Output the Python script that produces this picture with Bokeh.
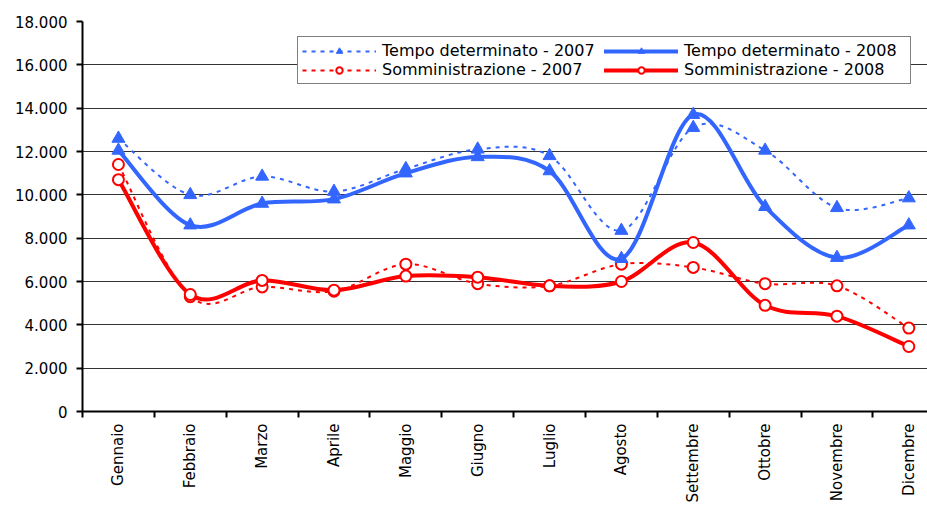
import numpy as np
from bokeh.plotting import figure
from bokeh.models import Range1d, FixedTicker, Legend, LegendItem, ColumnDataSource
from bokeh.embed import file_html
from bokeh.resources import INLINE

months = ["Gennaio", "Febbraio", "Marzo", "Aprile", "Maggio", "Giugno",
          "Luglio", "Agosto", "Settembre", "Ottobre", "Novembre", "Dicembre"]
tempo_2007 = [12600, 10000, 10850, 10150, 11200, 12100, 11800, 8350, 13100, 12050, 9400, 9850]
tempo_2008 = [12050, 8600, 9600, 9800, 11000, 11750, 11100, 7050, 13700, 9450, 7100, 8600]
somm_2007 = [11400, 5300, 5750, 5550, 6800, 5900, 5800, 6800, 6650, 5900, 5800, 3850]
somm_2008 = [10700, 5400, 6050, 5600, 6250, 6200, 5800, 6000, 7800, 4900, 4400, 3000]
y_ticks = [0, 2000, 4000, 6000, 8000, 10000, 12000, 14000, 16000, 18000]
y_tick_labels = ["0", "2.000", "4.000", "6.000", "8.000", "10.000",
                 "12.000", "14.000", "16.000", "18.000"]

BLUE = "#3366FF"
RED = "#FF0000"
FONT = "DejaVu Sans"

p = figure(width=927, height=505, output_backend="svg", toolbar_location=None,
           x_range=Range1d(-0.5, 11.26), y_range=Range1d(0, 18000),
           min_border_left=82, min_border_right=0, min_border_top=21,
           min_border_bottom=0)
p.outline_line_color = None
p.background_fill_color = "white"

# axes
p.xaxis.ticker = FixedTicker(ticks=list(range(len(months))),
                             minor_ticks=[i - 0.5 for i in range(len(months) + 1)])
p.xaxis.major_label_overrides = {i: m for i, m in enumerate(months)}
p.xaxis.major_tick_out = 0
p.xaxis.major_tick_in = 0
p.xaxis.minor_tick_out = 6
p.xaxis.minor_tick_in = 0
p.xaxis.minor_tick_line_color = "black"
p.xaxis.minor_tick_line_width = 2
p.xaxis.axis_line_width = 2
p.xaxis.axis_line_color = "black"
p.xaxis.major_label_orientation = np.pi / 2
p.xaxis.major_label_standoff = 6
p.xaxis.major_label_text_font = FONT
p.xaxis.major_label_text_font_size = "15px"
p.xaxis.major_label_text_color = "black"

p.yaxis.ticker = FixedTicker(ticks=y_ticks)
p.yaxis.major_label_overrides = {t: l for t, l in zip(y_ticks, y_tick_labels)}
p.yaxis.major_tick_out = 6
p.yaxis.major_tick_in = 0
p.yaxis.major_tick_line_width = 2
p.yaxis.minor_tick_line_color = None
p.yaxis.axis_line_width = 2
p.yaxis.axis_line_color = "black"
p.yaxis.major_label_standoff = 9
p.yaxis.major_label_text_font = FONT
p.yaxis.major_label_text_font_size = "15px"
p.yaxis.major_label_text_color = "black"

p.xgrid.visible = False
p.ygrid.ticker = FixedTicker(ticks=y_ticks)
p.ygrid.grid_line_color = "#333333"
p.ygrid.grid_line_width = 1


def smooth_segments(vals):
    xs = np.arange(len(vals), dtype=float)
    ys = np.asarray(vals, dtype=float)
    n = len(ys)
    seg = dict(x0=[], y0=[], x1=[], y1=[], cx0=[], cy0=[], cx1=[], cy1=[])
    for i in range(n - 1):
        i0 = max(i - 1, 0)
        i3 = min(i + 2, n - 1)
        seg["x0"].append(xs[i]); seg["y0"].append(ys[i])
        seg["x1"].append(xs[i + 1]); seg["y1"].append(ys[i + 1])
        seg["cx0"].append(xs[i] + (xs[i + 1] - xs[i0]) / 6)
        seg["cy0"].append(ys[i] + (ys[i + 1] - ys[i0]) / 6)
        seg["cx1"].append(xs[i + 1] - (xs[i3] - xs[i]) / 6)
        seg["cy1"].append(ys[i + 1] - (ys[i3] - ys[i]) / 6)
    return ColumnDataSource(seg)


series = [
    ("Tempo determinato - 2007", tempo_2007, BLUE, "4 5", 2, "triangle"),
    ("Somministrazione - 2007", somm_2007, RED, "4 5", 2, "circle"),
    ("Tempo determinato - 2008", tempo_2008, BLUE, "solid", 4, "triangle"),
    ("Somministrazione - 2008", somm_2008, RED, "solid", 4, "circle"),
]

items = []
for label, vals, col, dash, lw, marker in series:
    src = smooth_segments(vals)
    cap = "round" if dash == "solid" else "butt"
    br = p.bezier(x0="x0", y0="y0", x1="x1", y1="y1", cx0="cx0", cy0="cy0",
                  cx1="cx1", cy1="cy1", source=src, line_color=col, line_width=lw,
                  line_dash=dash, line_cap=cap)
    xs = list(range(len(vals)))
    if marker == "triangle":
        sc = p.scatter(xs, vals, marker="triangle", size=13, fill_color=col,
                       line_color=col, line_width=1)
    else:
        sc = p.scatter(xs, vals, marker="circle", size=11, fill_color="white",
                       line_color=col, line_width=2)
    items.append(LegendItem(label=label, renderers=[br, sc]))

legend = Legend(items=items, location=(215, 327), orientation="vertical", nrows=2)
legend.glyph_width = 74
legend.glyph_height = 16
legend.label_height = 16
legend.label_width = 222
legend.label_standoff = 6
legend.label_text_font = FONT
legend.label_text_font_size = "16px"
legend.label_text_color = "black"
legend.padding = 4
legend.spacing = 0
legend.margin = 0
legend.border_line_color = "black"
legend.border_line_width = 1
legend.background_fill_color = "white"
legend.background_fill_alpha = 1
p.add_layout(legend)

open("out.html", "w").write(file_html(p, INLINE))
